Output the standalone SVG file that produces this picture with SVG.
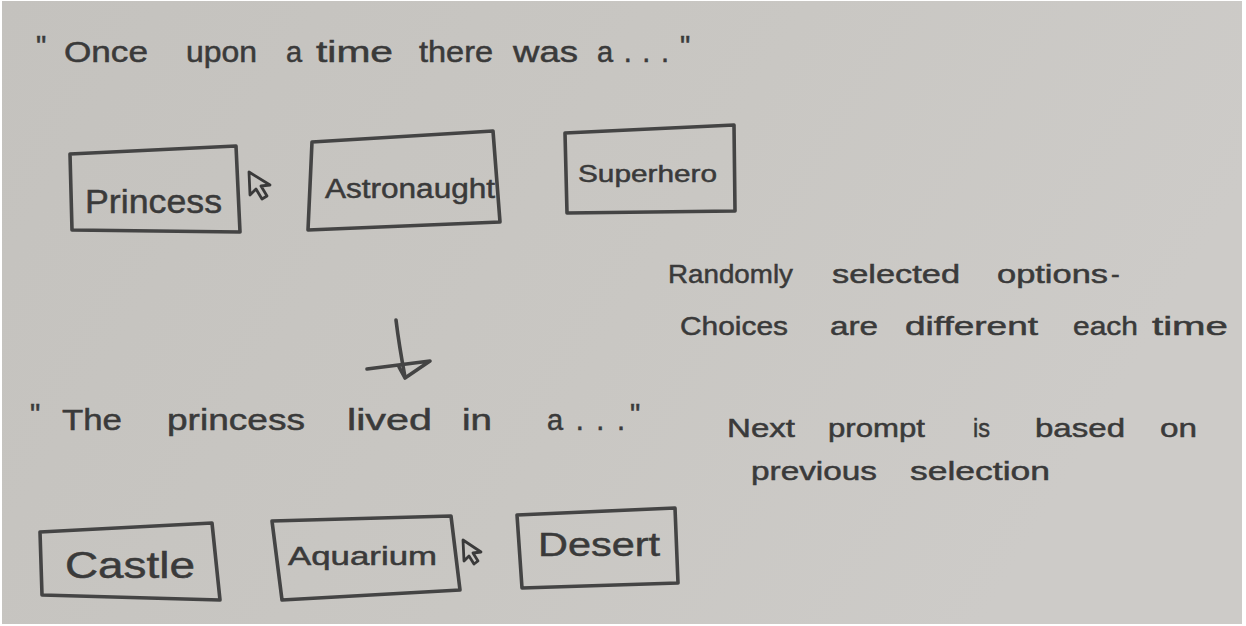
<svg xmlns="http://www.w3.org/2000/svg" width="1246" height="626" viewBox="0 0 1246 626">
  <defs>
    <linearGradient id="paper" x1="0" y1="0" x2="1" y2="0.3">
      <stop offset="0" stop-color="#c4c2be"/>
      <stop offset="0.6" stop-color="#c9c7c3"/>
      <stop offset="1" stop-color="#cdcbc8"/>
    </linearGradient>
    <style>
      .ink { fill: none; stroke: #444444; stroke-width: 3.6; stroke-linejoin: round; stroke-linecap: round; }
      .cursor { fill: none; stroke: #3a3a3a; stroke-width: 2.8; stroke-linejoin: round; }
      .hand { font-family: "Liberation Sans", "DejaVu Sans", sans-serif; fill: #3a3a3a; stroke: #3a3a3a; stroke-width: 0.5; }
      .prompt { font-size: 29px; }
      .note { font-size: 26px; }
    </style>
  </defs>

  <!-- sheet of paper on a white margin -->
  <rect x="0" y="0" width="1246" height="626" fill="#ffffff"/>
  <rect x="2" y="1" width="1240" height="623" fill="url(#paper)"/>

  <!-- opening prompt -->
  <g id="prompt-1">
    <text class="hand prompt" y="62">
      <tspan x="36" dy="-6">"</tspan>
      <tspan x="64" dy="6" textLength="84" lengthAdjust="spacingAndGlyphs">Once</tspan>
      <tspan x="186" textLength="71" lengthAdjust="spacingAndGlyphs">upon</tspan>
      <tspan x="286">a</tspan>
      <tspan x="316" textLength="77" lengthAdjust="spacingAndGlyphs">time</tspan>
      <tspan x="419" textLength="74" lengthAdjust="spacingAndGlyphs">there</tspan>
      <tspan x="513" textLength="65" lengthAdjust="spacingAndGlyphs">was</tspan>
      <tspan x="597" textLength="72" lengthAdjust="spacing">a...</tspan>
      <tspan x="680" dy="-6">"</tspan>
    </text>
  </g>

  <!-- first set of choices -->
  <g id="choice-princess">
    <path class="ink" d="M70 154 L236 146 L240 232 L72 230 Z"/>
    <text class="hand" x="85" y="213" font-size="34" textLength="137" lengthAdjust="spacingAndGlyphs">Princess</text>
  </g>
  <g id="cursor-1">
    <path class="cursor" d="M249 172 L250 195 L256 189 L262 199 L267 196 L261 186 L270 185 Z"/>
  </g>
  <g id="choice-astronaught">
    <path class="ink" d="M312 142 L493 131 L500 222 L308 230 Z"/>
    <text class="hand" x="325" y="198" font-size="27" textLength="170" lengthAdjust="spacingAndGlyphs">Astronaught</text>
  </g>
  <g id="choice-superhero">
    <path class="ink" d="M565 133 L734 125 L735 211 L567 213 Z"/>
    <text class="hand" x="578" y="182" font-size="24" textLength="139" lengthAdjust="spacingAndGlyphs">Superhero</text>
  </g>

  <!-- side note about the first choices -->
  <g id="note-random">
    <text class="hand note" y="283">
      <tspan x="668" textLength="125" lengthAdjust="spacingAndGlyphs">Randomly</tspan>
      <tspan x="832" textLength="128" lengthAdjust="spacingAndGlyphs">selected</tspan>
      <tspan x="997" textLength="111" lengthAdjust="spacingAndGlyphs">options</tspan>
      <tspan x="1111">-</tspan>
    </text>
    <text class="hand note" y="335">
      <tspan x="680" textLength="108" lengthAdjust="spacingAndGlyphs">Choices</tspan>
      <tspan x="830" textLength="48" lengthAdjust="spacingAndGlyphs">are</tspan>
      <tspan x="905" textLength="133" lengthAdjust="spacingAndGlyphs">different</tspan>
      <tspan x="1073" textLength="65" lengthAdjust="spacingAndGlyphs">each</tspan>
      <tspan x="1152" textLength="76" lengthAdjust="spacingAndGlyphs">time</tspan>
    </text>
  </g>

  <!-- flow from the first prompt to the next -->
  <g id="connectors">
    <path class="ink" d="M396 320 Q399 345 405 377"/>
    <path class="ink" stroke-width="4.2" d="M367 369 L430 361 L405 378 L399 367"/>
  </g>

  <!-- follow-up prompt -->
  <g id="prompt-2">
    <text class="hand prompt" y="430">
      <tspan x="30" dy="-6">"</tspan>
      <tspan x="62" dy="6" textLength="60" lengthAdjust="spacingAndGlyphs">The</tspan>
      <tspan x="167" textLength="138" lengthAdjust="spacingAndGlyphs">princess</tspan>
      <tspan x="347" textLength="85" lengthAdjust="spacingAndGlyphs">lived</tspan>
      <tspan x="462" textLength="30" lengthAdjust="spacingAndGlyphs">in</tspan>
      <tspan x="547" textLength="78" lengthAdjust="spacing">a...</tspan>
      <tspan x="630" dy="-6">"</tspan>
    </text>
  </g>

  <!-- side note about the follow-up prompt -->
  <g id="note-next">
    <text class="hand note" y="437">
      <tspan x="727" textLength="68" lengthAdjust="spacingAndGlyphs">Next</tspan>
      <tspan x="828" textLength="97" lengthAdjust="spacingAndGlyphs">prompt</tspan>
      <tspan x="973" textLength="17" lengthAdjust="spacingAndGlyphs">is</tspan>
      <tspan x="1035" textLength="90" lengthAdjust="spacingAndGlyphs">based</tspan>
      <tspan x="1160" textLength="37" lengthAdjust="spacingAndGlyphs">on</tspan>
    </text>
    <text class="hand note" y="480">
      <tspan x="751" textLength="126" lengthAdjust="spacingAndGlyphs">previous</tspan>
      <tspan x="910" textLength="140" lengthAdjust="spacingAndGlyphs">selection</tspan>
    </text>
  </g>

  <!-- second set of choices -->
  <g id="choice-castle">
    <path class="ink" d="M40 532 L212 523 L220 600 L42 595 Z"/>
    <text class="hand" x="65" y="578" font-size="37" textLength="130" lengthAdjust="spacingAndGlyphs">Castle</text>
  </g>
  <g id="choice-aquarium">
    <path class="ink" d="M272 521 L451 516 L460 590 L282 600 Z"/>
    <text class="hand" x="288" y="565" font-size="26" textLength="149" lengthAdjust="spacingAndGlyphs">Aquarium</text>
  </g>
  <g id="cursor-2">
    <path class="cursor" d="M463 540 L464 561 L469 556 L474 564 L478 561 L473 553 L481 552 Z"/>
  </g>
  <g id="choice-desert">
    <path class="ink" d="M517 515 L675 508 L678 583 L522 588 Z"/>
    <text class="hand" x="538" y="556" font-size="34" textLength="122" lengthAdjust="spacingAndGlyphs">Desert</text>
  </g>
</svg>
